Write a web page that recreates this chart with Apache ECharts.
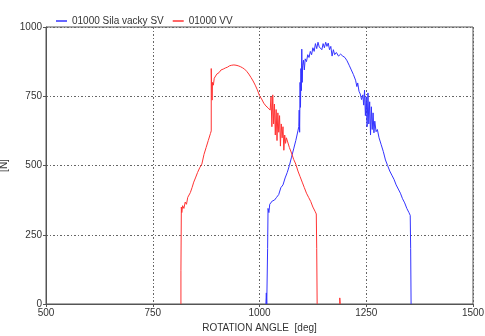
<!DOCTYPE html>
<html>
<head>
<meta charset="utf-8">
<script src="https://cdn.jsdelivr.net/npm/echarts@6/dist/echarts.min.js"></script>
<style>
  html, body { margin: 0; padding: 0; background: #fff; }
  #chart { width: 485px; height: 336px; }
</style>
</head>
<body>
<div id="chart"></div>
<script>
// Sila vacky vs. uhel natoceni - dve mereni (SV modra, VV cervena)
const xTicks = [500, 750, 1000, 1250, 1500]
const yTicks = [0, 250, 500, 750, 1000]

// 01000 Sila vacky SV  [deg, N]
const svPoints = [
  [1015, 0], [1016, 40], [1017, 0], [1018, 0], [1019, 200], [1020, 345], [1022, 330],
  [1024, 360], [1027, 355], [1030, 372], [1035, 375], [1040, 385], [1045, 395],
  [1050, 420], [1055, 430], [1060, 455], [1065, 475], [1070, 500], [1075, 530],
  [1080, 560], [1085, 590], [1090, 625], [1092, 640], [1093, 700], [1094, 620],
  [1095, 800], [1096, 710], [1097, 850], [1098, 770], [1099, 920], [1100, 800],
  [1101, 860], [1103, 880], [1105, 845], [1107, 885], [1110, 875], [1113, 900],
  [1116, 890], [1119, 912], [1122, 900], [1125, 925], [1128, 912], [1131, 940],
  [1134, 922], [1137, 945], [1140, 928], [1143, 935], [1146, 918], [1149, 940],
  [1152, 925], [1155, 945], [1158, 930], [1161, 942], [1164, 918], [1167, 930],
  [1170, 895], [1173, 918], [1176, 900], [1180, 908], [1185, 895], [1190, 902],
  [1195, 895], [1200, 890], [1205, 878], [1210, 862], [1215, 845], [1220, 828],
  [1225, 808], [1228, 785], [1230, 798], [1233, 768], [1236, 758], [1239, 738],
  [1242, 755], [1244, 718], [1246, 772], [1248, 680], [1250, 748], [1252, 640],
  [1254, 762], [1256, 650], [1258, 730], [1260, 610], [1262, 712], [1264, 630],
  [1266, 690], [1268, 618], [1270, 660], [1273, 622], [1276, 630], [1280, 600],
  [1285, 575], [1290, 550], [1295, 520], [1300, 500], [1305, 480], [1310, 465],
  [1315, 450], [1320, 430], [1325, 415], [1330, 400], [1335, 380], [1340, 365],
  [1345, 345], [1350, 330], [1353, 320], [1354, 200], [1355, 0]
]

// 01000 VV  [deg, N]
const vvPoints = [
  [816, 0], [816, 120], [817, 350], [818, 330], [820, 355], [823, 345], [826, 368],
  [829, 360], [832, 385], [835, 378], [838, 402], [842, 420], [846, 440], [850, 455],
  [855, 475], [860, 492], [865, 505], [870, 540], [875, 565], [880, 590], [885, 615],
  [887, 625], [887, 850], [888, 780], [889, 736], [890, 800], [892, 790], [894, 815],
  [897, 808], [900, 830], [905, 835], [910, 845], [915, 848], [920, 852], [925, 855],
  [930, 860], [935, 862], [940, 863], [945, 862], [950, 860], [955, 857], [960, 853],
  [965, 848], [970, 840], [975, 830], [980, 818], [985, 805], [990, 790], [995, 773],
  [1000, 752], [1005, 740], [1010, 725], [1015, 715], [1020, 708], [1025, 700],
  [1027, 748], [1029, 640], [1031, 755], [1033, 650], [1035, 722], [1037, 610],
  [1039, 702], [1041, 590], [1043, 690], [1045, 620], [1047, 680], [1049, 570],
  [1051, 650], [1053, 600], [1055, 640], [1057, 555], [1059, 610], [1061, 580],
  [1063, 600], [1066, 585], [1070, 565], [1075, 545], [1080, 522], [1085, 505],
  [1090, 480], [1095, 460], [1100, 440], [1105, 420], [1110, 400], [1115, 385],
  [1120, 370], [1125, 350], [1130, 335], [1133, 325], [1134, 200], [1135, 0],
  [1160, null], [1188, 0], [1188, 22], [1189, 0]
]

const seriesNames = ['01000 Sila vacky SV', '01000 VV']
const seriesColors = ['#3333ff', '#ff3333']

const chart = echarts.init(document.getElementById('chart'), null, { renderer: 'canvas' })

const axisText = { color: '#333', fontFamily: 'Liberation Sans, Arial', fontSize: 10 }
const gridLine = { show: true, lineStyle: { color: '#666', width: 1, type: [2, 2, 1, 2] } }

chart.setOption({
  animation: false,
  backgroundColor: '#fff',
  textStyle: { fontFamily: 'Liberation Sans, Arial' },
  legend: {
    data: seriesNames,
    left: 51,
    top: 11,
    icon: 'rect',
    itemWidth: 11,
    itemHeight: 1.5,
    itemGap: 9,
    textStyle: { color: '#333', fontSize: 10, fontFamily: 'Liberation Sans, Arial' }
  },
  grid: {
    left: 46, right: 12, top: 27, bottom: 32,
    outerBoundsMode: 'none',
    containLabel: false,
    show: true, borderColor: '#555', borderWidth: 1
  },
  xAxis: {
    type: 'value',
    min: xTicks[0],
    max: xTicks[xTicks.length - 1],
    interval: 250,
    name: 'ROTATION ANGLE  [deg]',
    nameLocation: 'middle',
    nameGap: 19,
    nameTextStyle: { ...axisText, fontSize: 10 },
    axisLine: { lineStyle: { color: '#555' } },
    axisTick: { show: true, length: 3, lineStyle: { color: '#555' } },
    axisLabel: { ...axisText, margin: 4, formatter: (v) => String(v) },
    splitLine: gridLine
  },
  yAxis: {
    type: 'value',
    min: yTicks[0],
    max: yTicks[yTicks.length - 1],
    interval: 250,
    name: '[N]',
    nameLocation: 'middle',
    nameGap: 30,
    nameTextStyle: { ...axisText },
    axisLine: { show: true, lineStyle: { color: '#555' } },
    axisTick: { show: true, length: 3, lineStyle: { color: '#555' } },
    axisLabel: { ...axisText, margin: 4, formatter: (v) => String(v) },
    splitLine: gridLine
  },
  series: [
    {
      name: seriesNames[0],
      type: 'line',
      data: svPoints,
      showSymbol: false,
      connectNulls: false,
      color: seriesColors[0],
      lineStyle: { width: 1, color: seriesColors[0] }
    },
    {
      name: seriesNames[1],
      type: 'line',
      data: vvPoints,
      showSymbol: false,
      connectNulls: false,
      color: seriesColors[1],
      lineStyle: { width: 1, color: seriesColors[1] }
    }
  ]
})
</script>
</body>
</html>
